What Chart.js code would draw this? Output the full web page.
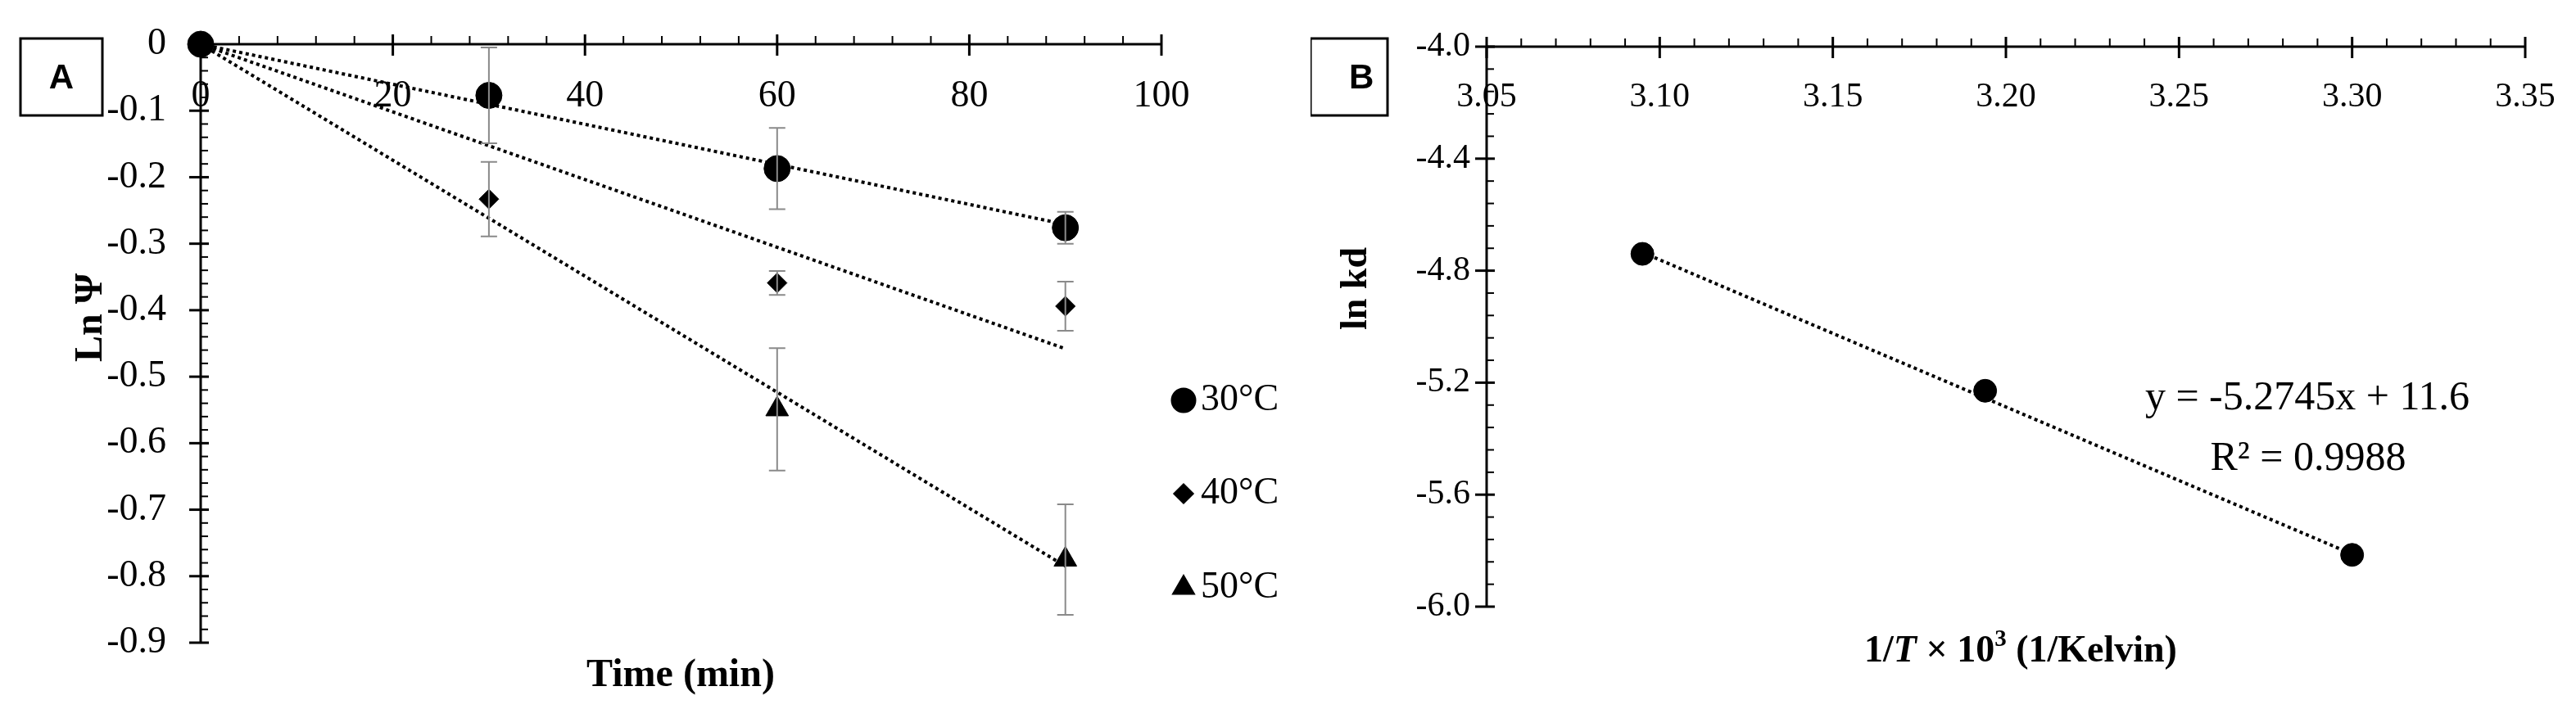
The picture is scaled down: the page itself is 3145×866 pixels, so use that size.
<!DOCTYPE html>
<html><head><meta charset="utf-8">
<script src="https://cdn.jsdelivr.net/npm/chart.js@4.4.1/dist/chart.umd.min.js"></script>
<style>html,body{margin:0;padding:0;background:#fff;}#wa{position:absolute;left:0;top:0;width:1600px;height:866px}#wb{position:absolute;left:1600px;top:0;width:1545px;height:866px}</style>
</head><body>
<div id="wa"><canvas id="ca"></canvas></div>
<div id="wb"><canvas id="cb"></canvas></div>
<script>
// Panel A data
const timeMin = [0, 30, 60, 90];
const lnPsi30 = [0, -0.077, -0.187, -0.276];
const err30 = [0, 0.072, 0.061, 0.024];
const lnPsi40 = [0, -0.233, -0.359, -0.394];
const err40 = [0, 0.056, 0.018, 0.037];
const time50 = [0, 60, 90];
const lnPsi50 = [0, -0.549, -0.775];
const err50 = [0, 0.092, 0.083];
const trendX = [0, 90];
const trend30 = [0, -0.271];
const trend40 = [0, -0.458];
const trend50 = [0, -0.785];
const xTicksA = [0, 20, 40, 60, 80, 100];
const yTicksA = [0, -0.1, -0.2, -0.3, -0.4, -0.5, -0.6, -0.7, -0.8, -0.9];
const yTickLabelsA = ['0','-0.1','-0.2','-0.3','-0.4','-0.5','-0.6','-0.7','-0.8','-0.9'];
const seriesNames = ['30°C', '40°C', '50°C'];
// Panel B data
const invT = [3.095, 3.194, 3.300];
const lnKd = [-4.740, -5.229, -5.815];
const trendBX = [3.095, 3.300];
const trendBY = [-4.735, -5.812];
const xTicksB = [3.05, 3.10, 3.15, 3.20, 3.25, 3.30, 3.35];
const yTicksB = [-4.0, -4.4, -4.8, -5.2, -5.6, -6.0];
const eqText = 'y = -5.2745x + 11.6';
const r2Text = 'R² = 0.9988';

const SERIF = '"Liberation Serif", "Times New Roman", serif';
const pts = (xs, ys) => xs.map((x, i) => ({x, y: ys[i]}));

function axesPlugin(cfg) {
  return {
    id: 'axes' + cfg.id,
    afterDatasetsDraw(chart) {
      const ctx = chart.ctx, xs = chart.scales.x, ys = chart.scales.y;
      ctx.save();
      if (cfg.errors) {
        ctx.strokeStyle = '#8a8a8a'; ctx.lineWidth = 2;
        cfg.errors.forEach(e => {
          e.x.forEach((xv, i) => {
            if (!e.err[i]) return;
            const px = xs.getPixelForValue(xv);
            const t = ys.getPixelForValue(e.y[i] + e.err[i]);
            const b = ys.getPixelForValue(e.y[i] - e.err[i]);
            ctx.beginPath();
            ctx.moveTo(px, t); ctx.lineTo(px, b);
            ctx.moveTo(px - 10, t); ctx.lineTo(px + 10, t);
            ctx.moveTo(px - 10, b); ctx.lineTo(px + 10, b);
            ctx.stroke();
          });
        });
      }
      ctx.strokeStyle = '#000'; ctx.fillStyle = '#000'; ctx.lineWidth = 3;
      const ay = ys.getPixelForValue(cfg.xAxisAt);
      const ax = xs.getPixelForValue(cfg.yAxisAt);
      ctx.beginPath(); ctx.moveTo(xs.getPixelForValue(xs.min), ay); ctx.lineTo(xs.getPixelForValue(xs.max), ay); ctx.stroke();
      ctx.beginPath(); ctx.moveTo(ax, ys.getPixelForValue(ys.max)); ctx.lineTo(ax, ys.getPixelForValue(ys.min)); ctx.stroke();
      const nx = Math.round((xs.max - xs.min) / cfg.xMinor);
      for (let i = 0; i <= nx; i++) {
        const v = xs.min + i * cfg.xMinor;
        const px = xs.getPixelForValue(v);
        const major = i % cfg.xMajorEvery === 0;
        ctx.lineWidth = major ? 3 : 2;
        ctx.beginPath();
        if (major) { ctx.moveTo(px, ay - 12); ctx.lineTo(px, ay + 14); }
        else { ctx.moveTo(px, ay - 10); ctx.lineTo(px, ay); }
        ctx.stroke();
      }
      const ny = Math.round((ys.max - ys.min) / cfg.yMinor);
      for (let i = 0; i <= ny; i++) {
        const v = ys.max - i * cfg.yMinor;
        const py = ys.getPixelForValue(v);
        const major = i % cfg.yMajorEvery === 0;
        ctx.lineWidth = major ? 3 : 2;
        ctx.beginPath();
        if (major) { ctx.moveTo(ax - 14, py); ctx.lineTo(ax + 10, py); }
        else { ctx.moveTo(ax, py); ctx.lineTo(ax + 9, py); }
        ctx.stroke();
      }
      ctx.font = cfg.tickFont + 'px ' + SERIF;
      ctx.textAlign = 'center'; ctx.textBaseline = 'middle';
      cfg.xTicks.forEach((v, i) => ctx.fillText(cfg.xLabels[i], xs.getPixelForValue(v), ay + cfg.xLabelOff));
      ctx.textAlign = 'right';
      cfg.yTicks.forEach((v, i) => ctx.fillText(cfg.yLabels[i], ax - cfg.yLabelOff, ys.getPixelForValue(v)));
      ctx.font = 'bold ' + cfg.titleFont + 'px ' + SERIF;
      ctx.textAlign = 'center';
      if (cfg.drawXTitle) cfg.drawXTitle(ctx); else ctx.fillText(cfg.xTitle, cfg.xTitlePos[0], cfg.xTitlePos[1]);
      ctx.save(); ctx.translate(cfg.yTitlePos[0], cfg.yTitlePos[1]); ctx.rotate(-Math.PI / 2);
      ctx.fillText(cfg.yTitle, 0, 0); ctx.restore();
      ctx.lineWidth = 3; ctx.strokeRect(cfg.box[0], cfg.box[1], cfg.box[2], cfg.box[3]);
      ctx.font = 'bold 42px "Liberation Sans", Arial, sans-serif';
      ctx.fillText(cfg.letter, cfg.box[0] + cfg.box[2] / 2, cfg.box[1] + cfg.box[3] / 2 + 2);
      if (cfg.extra) cfg.extra(ctx, chart);
      ctx.restore();
    }
  };
}

const common = {
  responsive: true, maintainAspectRatio: false, animation: false,
  plugins: { legend: { display: false }, tooltip: { enabled: false } },
};

const trendStyle = { type: 'line', borderColor: '#000', borderWidth: 4, borderDash: [4, 4], pointRadius: 0, fill: false, showLine: true, clip: false };

new Chart(document.getElementById('ca'), {
  type: 'scatter',
  data: { datasets: [
    Object.assign({ data: pts(trendX, trend30) }, trendStyle),
    Object.assign({ data: pts(trendX, trend40) }, trendStyle),
    Object.assign({ data: pts(trendX, trend50) }, trendStyle),
    { label: seriesNames[0], data: pts(timeMin, lnPsi30), pointStyle: 'circle', pointRadius: 16, backgroundColor: '#000', borderColor: '#000', clip: false },
    { label: seriesNames[1], data: pts(timeMin, lnPsi40), pointStyle: 'rectRot', pointRadius: 12, backgroundColor: '#000', borderColor: '#000', clip: false },
    { label: seriesNames[2], data: pts(time50, lnPsi50), pointStyle: 'triangle', pointRadius: 16, backgroundColor: '#000', borderColor: '#000', clip: false },
  ]},
  options: Object.assign({}, common, {
    layout: { padding: { left: 245, right: 182, top: 54, bottom: 81 } },
    scales: { x: { display: false, min: 0, max: 100 }, y: { display: false, min: -0.9, max: 0 } }
  }),
  plugins: [axesPlugin({
    id: 'A', xAxisAt: 0, yAxisAt: 0, xMinor: 4, xMajorEvery: 5, yMinor: 0.02, yMajorEvery: 5,
    xTicks: xTicksA, xLabels: xTicksA.map(String), yTicks: yTicksA, yLabels: yTickLabelsA,
    tickFont: 46, titleFont: 48, xLabelOff: 64, yLabelOff: 42,
    xTitle: 'Time (min)', xTitlePos: [831, 826], yTitle: 'Ln Ψ', yTitlePos: [112, 388],
    box: [25, 47, 100, 94], letter: 'A', errors: [
      { x: timeMin, y: lnPsi30, err: err30 }, { x: timeMin, y: lnPsi40, err: err40 }, { x: time50, y: lnPsi50, err: err50 }],
    extra(ctx) {
      const ys = [489, 603, 718], styles = ['circle', 'rectRot', 'triangle'], rads = [14, 11, 14];
      ctx.font = '46px ' + SERIF; ctx.textAlign = 'left'; ctx.textBaseline = 'middle';
      ys.forEach((y, i) => {
        Chart.helpers.drawPoint(ctx, { pointStyle: styles[i], radius: rads[i], borderWidth: 1 }, 1445, y);
        ctx.fill();
        ctx.fillText(seriesNames[i], 1466, y);
      });
    }
  })]
});

new Chart(document.getElementById('cb'), {
  type: 'scatter',
  data: { datasets: [
    Object.assign({ data: pts(trendBX, trendBY) }, trendStyle),
    { data: pts(invT, lnKd), pointStyle: 'circle', pointRadius: 14, backgroundColor: '#000', borderColor: '#000', clip: false },
  ]},
  options: Object.assign({}, common, {
    layout: { padding: { left: 215, right: 62, top: 57, bottom: 125 } },
    scales: { x: { display: false, min: 3.05, max: 3.35 }, y: { display: false, min: -6.0, max: -4.0 } }
  }),
  plugins: [axesPlugin({
    id: 'B', xAxisAt: -4.0, yAxisAt: 3.05, xMinor: 0.01, xMajorEvery: 5, yMinor: 0.08, yMajorEvery: 5,
    xTicks: xTicksB, xLabels: xTicksB.map(v => v.toFixed(2)), yTicks: yTicksB, yLabels: yTicksB.map(v => v.toFixed(1)),
    tickFont: 42, titleFont: 46, xLabelOff: 62, yLabelOff: 20,
    yTitle: 'ln kd', yTitlePos: [56, 403], box: [0, 47, 94, 94], letter: 'B',
    drawXTitle(ctx) {
      const parts = [['bold 46px ', '1/'], ['bold italic 46px ', 'T'], ['bold 46px ', ' × 10'], ['bold 29px ', '3'], ['bold 46px ', ' (1/Kelvin)']];
      let w = 0; parts.forEach(p => { ctx.font = p[0] + SERIF; w += ctx.measureText(p[1]).width; });
      let x = 867 - w / 2; ctx.textAlign = 'left';
      parts.forEach(p => { ctx.font = p[0] + SERIF; ctx.fillText(p[1], x, p[1] === '3' ? 782 : 796); x += ctx.measureText(p[1]).width; });
    },
    extra(ctx) {
      ctx.font = '50px ' + SERIF; ctx.textAlign = 'center'; ctx.textBaseline = 'middle';
      ctx.fillText(eqText, 1217, 487);
      ctx.fillText(r2Text, 1218, 561);
    }
  })]
});
</script>
</body></html>
